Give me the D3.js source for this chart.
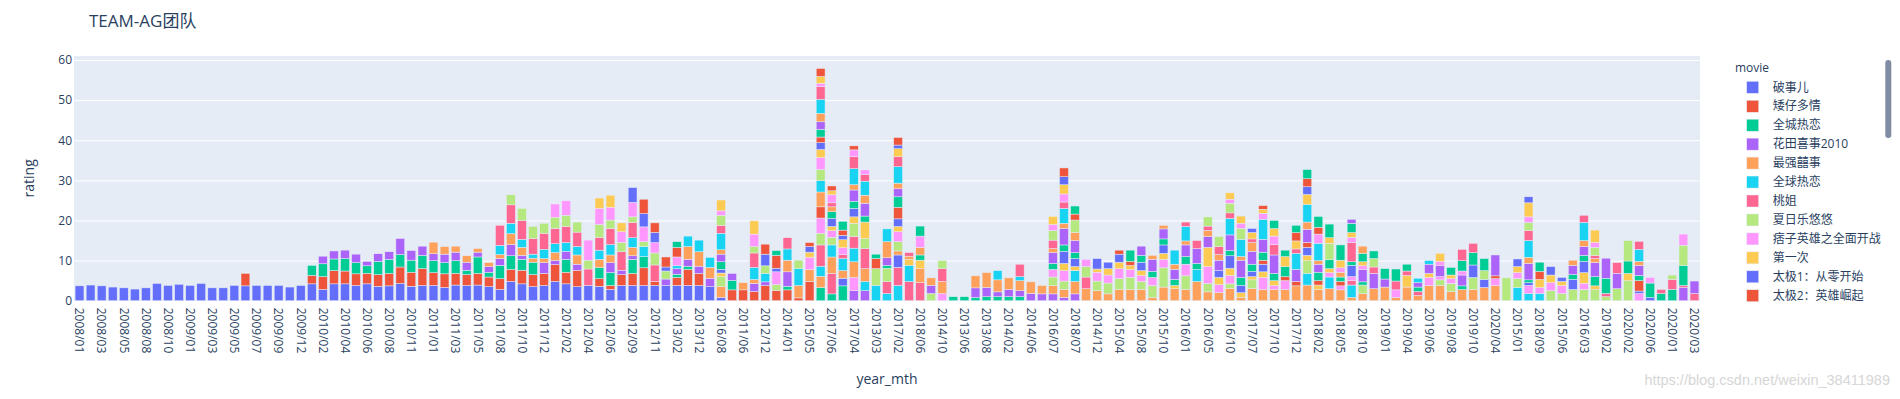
<!DOCTYPE html>
<html><head><meta charset="utf-8">
<script src="https://cdn.jsdelivr.net/npm/d3@7"></script>
<style>
body{margin:0;background:#fff}
svg{display:block}
text{font-family:"Open Sans","Noto Sans CJK SC",verdana,arial,sans-serif}
</style>
</head><body>
<svg id="chart" width="1900" height="399"></svg>
<script>
// ---------- data ----------
const categories = [
"2008/01","2008/02","2008/03","2008/04","2008/05","2008/07","2008/08","2008/09","2008/10","2008/12",
"2009/01","2009/02","2009/03","2009/04","2009/05","2009/06","2009/07","2009/08","2009/09","2009/10",
"2009/12","2010/01","2010/02","2010/03","2010/04","2010/05","2010/06","2010/07","2010/08","2010/09",
"2010/11","2010/12","2011/01","2011/02","2011/03","2011/04","2011/05","2011/07","2011/08","2011/09",
"2011/10","2011/11","2011/12","2012/01","2012/02","2012/03","2012/04","2012/05","2012/06","2012/08",
"2012/09","2012/10","2012/11","2013/01","2013/02","2013/04","2013/12","2014/05","2016/08","2016/09",
"2011/06","2012/07","2012/12","2013/10","2014/01","2014/08","2015/05","2015/12","2017/06","2017/05",
"2017/04","2017/03","2013/03","2017/01","2017/02","2018/04","2018/06","2014/07","2014/10","2013/05",
"2013/06","2013/07","2013/08","2013/09","2014/02","2014/04","2014/06","2014/09","2016/07","2016/12",
"2018/07","2014/11","2014/12","2015/03","2015/04","2015/07","2015/08","2015/09","2015/10","2015/11",
"2016/01","2016/04","2016/05","2016/06","2016/10","2016/11","2017/07","2017/09","2017/10","2017/11",
"2017/12","2018/01","2018/02","2018/03","2018/05","2018/08","2018/10","2018/12","2019/01","2019/03",
"2019/04","2019/05","2019/06","2019/07","2019/08","2019/09","2019/10","2019/11","2020/04","2020/05",
"2015/01","2015/02","2018/09","2018/11","2015/06","2016/02","2016/03","2019/12","2019/02","2010/10",
"2020/02","2008/06","2020/06","2008/11","2020/01","2009/11","2020/03"
];
const tickLabels = categories.filter((d, i) => i % 2 === 0);
const movies = ["破事儿","矮仔多情","全城热恋","花田喜事2010","最强囍事","全球热恋","桃姐","夏日乐悠悠","痞子英雄之全面开战","第一次","太极1：从零开始","太极2：英雄崛起"];
const palette = ["#636efa","#EF553B","#00cc96","#ab63fa","#FFA15A","#19d3f3","#FF6692","#B6E880","#FF97FF","#FECB52"];
const yTicks = [0,10,20,30,40,50,60];

// stacked segments per month, bottom to top: [colour index of movie, rating]
const bars2008to2010 = [
[[0,3.7]],[[0,3.9]],[[0,3.7]],[[0,3.4]],[[0,3.2]],[[0,2.9]],[[0,3.2]],[[0,4.3]],[[0,3.8]],[[0,4.1]],
[[0,3.8]],[[0,4.3]],[[0,3.2]],[[0,3.2]],[[0,3.8]],[[0,3.7],[1,3.1]],[[0,3.8]],[[0,3.8]],[[0,3.8]],[[0,3.4]],
[[0,3.8]],
[[0,4.2],[1,2.1],[2,2.5]],
[[0,2.8],[1,3.2],[2,3.2],[3,1.9]],
[[0,4.2],[1,3.3],[2,2.9],[3,2.0]],
[[0,4.2],[1,3.2],[2,3.1],[3,2.1]],
[[0,3.8],[1,2.9],[2,2.8],[3,2.1]],
[[0,4.2],[1,2.6],[2,1.9],[3,1.1]],
[[0,3.6],[1,2.9],[2,3.3],[3,1.9]],
[[0,3.7],[1,3.1],[2,3.5],[3,1.9]],
[[0,4.3],[1,4.1],[2,3.1],[3,4.0]]
];
const bars2010to2013 = [
[[0,3.6],[1,3.5],[2,3.0],[3,2.4]],
[[0,3.8],[1,4.2],[2,3.3],[3,2.3]],
[[0,3.8],[1,3.2],[2,3.0],[3,1.7],[4,2.9]],
[[0,3.3],[1,3.4],[2,2.8],[3,2.1],[4,1.9]],
[[0,3.9],[1,2.9],[2,3.2],[3,2.1],[4,1.5]],
[[0,3.8],[1,2.7],[2,1.1],[3,2.0],[4,1.6]],
[[0,3.9],[1,2.9],[2,4.1],[3,1.2],[4,0.9]],
[[0,3.5],[1,2.4],[2,1.2],[3,1.4],[4,1.0]],
[[0,2.8],[1,2.7],[2,3.3],[3,1.7],[4,1.0],[5,2.3],[6,5.0]],
[[0,4.8],[1,3.0],[2,3.4],[3,2.8],[4,2.7],[5,2.6],[6,4.6],[7,2.5]],
[[0,4.2],[1,3.4],[2,2.7],[3,1.0],[4,2.0],[5,2.0],[6,4.7],[7,3.0]],
[[0,3.5],[1,3.0],[2,3.1],[4,1.0],[5,1.0],[6,3.9],[7,3.0]],
[[0,3.8],[1,3.0],[3,2.7],[4,1.0],[5,2.3],[6,4.0],[7,2.5]],
[[0,4.8],[1,4.2],[3,1.0],[4,2.0],[5,2.2],[6,3.8],[7,2.8],[8,3.3]],
[[0,4.2],[1,2.9],[2,3.2],[3,2.0],[5,2.2],[6,4.0],[7,2.8],[8,3.6]],
[[0,3.5],[1,4.1],[3,1.5],[4,2.3],[5,2.1],[6,3.6],[7,2.5]],
[[0,3.8],[6,4.1],[7,2.2],[8,5.0]],
[[0,3.6],[1,1.9],[2,2.8],[4,2.0],[5,2.3],[6,3.2],[7,3.2],[8,4.0],[9,2.6]],
[[0,2.8],[1,1.0],[2,3.2],[3,2.5],[4,1.9],[5,2.6],[6,4.0],[7,2.1],[8,3.2],[9,3.0]],
[[0,3.8],[1,2.7],[3,1.1],[6,4.6],[7,2.3],[8,2.7],[9,2.2]],
[[0,3.8],[1,3.0],[2,3.5],[3,0.9],[4,2.1],[5,2.4],[6,3.8],[7,1.4],[8,3.6],[0,3.7]],
[[0,3.8],[1,4.4],[2,2.8],[5,2.5],[7,1.2],[8,3.7],[0,3.3],[1,3.6]],
[[0,3.8],[1,1.0],[6,4.1],[7,3.0],[8,2.6],[0,2.5],[1,2.4]],
[[0,3.8],[3,1.6],[7,2.0],[0,1.0],[1,2.5]],
[[0,3.8],[1,2.0],[2,0.8],[3,1.4],[5,0.7],[8,2.2],[1,2.4],[2,1.4]],
[[0,3.8],[1,4.0],[2,0.8],[3,1.7],[4,3.2],[5,2.6]],
[[0,3.8],[1,3.0],[3,1.8],[4,3.6],[5,2.9]],
[[0,3.5],[3,2.1],[4,2.7],[5,2.5]],
[[0,0.8],[4,2.7],[7,2.5],[9,0.9],[0,0.9],[2,1.9],[3,1.9],[4,1.1],[5,4.1],[6,2.0],[7,2.5],[8,1.1],[9,2.7]],
[[1,2.7],[2,2.4],[3,1.7]]
];
const barsMixedA = [
[[1,2.7],[4,1.8]],
[[1,2.3],[3,2.0],[4,1.0],[5,3.0],[6,3.6],[7,1.6],[8,3.1],[9,3.3]],
[[1,3.8],[3,0.9],[5,2.1],[7,1.9],[0,2.9],[1,2.5]],
[[1,2.6],[7,1.4],[8,3.2],[0,0.9],[1,3.2],[2,1.2]],
[[1,2.7],[2,0.9],[3,3.6],[4,2.9],[5,2.8],[6,2.8]],
[[1,0.7],[4,3.1],[5,4.2],[7,2.1]],
[[1,4.8],[4,3.0],[8,3.0],[9,1.3],[0,1.4],[1,1.0]],
[[2,3.3],[4,2.8],[5,2.5],[6,5.3],[7,2.9],[8,3.8],[1,2.8],[4,3.7],[5,2.8],[7,2.8],[8,3.0],[9,2.0],[0,1.7],[1,1.4],[2,1.9],[3,1.9],[4,2.1],[5,3.5],[6,3.2],[8,0.8],[9,1.7],[1,2.0]],
[[2,1.7],[6,5.1],[4,4.1],[5,3.0],[7,1.9],[8,1.7],[9,1.0],[0,2.0],[2,1.7],[4,1.2],[6,1.0],[8,2.0],[9,1.0],[1,1.2]],
[[2,3.7],[0,1.9],[4,1.9],[5,3.0],[6,1.0],[8,1.7],[9,2.0],[0,1.1],[1,1.3],[2,2.2]],
[[3,2.5],[8,3.3],[4,3.9],[5,3.4],[6,2.9],[7,3.3],[9,1.6],[0,2.1],[2,1.8],[3,2.8],[4,1.3],[5,4.0],[6,3.0],[8,1.7],[1,1.0]],
[[3,2.5],[5,2.3],[4,3.2],[6,5.0],[7,2.5],[9,4.1],[2,1.5],[3,3.2],[4,2.0],[5,3.5],[6,1.6],[8,1.2]],
[[5,3.8],[7,4.2],[1,2.5],[2,1.1]],
[[5,1.8],[6,3.0],[7,3.3],[2,0.7],[3,1.9],[4,4.0],[5,3.2]],
[[5,3.8],[6,4.5],[0,3.1],[4,1.0],[7,2.3],[8,2.5],[9,1.3],[0,1.9],[1,2.9],[2,2.6],[3,2.0],[4,1.4],[5,4.1],[6,2.5],[9,2.0],[0,0.9],[1,1.9]],
[[6,4.8],[5,4.0],[9,1.5],[4,0.8],[6,0.9]],
[[6,4.5],[4,3.5],[9,2.1],[2,1.3],[4,1.9],[8,2.8],[2,2.5]],
[[7,1.8],[3,2.0],[4,1.9]],
[[8,1.8],[4,3.0],[6,3.2],[7,2.0]],
[[2,1.0]],
[[2,1.0]],
[[2,0.8],[3,2.4],[4,3.0]],
[[2,1.0],[3,2.3],[4,3.7]],
[[2,1.0],[3,1.2],[4,3.0],[5,2.3]],
[[2,1.0],[3,1.8],[4,2.9]],
[[2,1.0],[3,1.5],[4,2.5],[5,1.0],[6,3.1]],
[[3,1.8],[4,2.9]],
[[3,1.7],[4,2.1]],
[[3,1.7],[4,2.1],[7,2.1],[8,1.9],[2,1.5],[3,2.7],[4,1.0],[6,2.1],[7,2.4],[8,1.5],[9,2.0]],
[[3,0.8],[4,2.0],[7,2.1],[8,2.6],[9,1.8],[0,3.0],[2,1.6],[3,4.1],[4,1.3],[5,3.7],[6,1.6],[8,2.0],[9,2.3],[0,2.0],[1,2.2]]
];
const barsMixedB = [
[[3,1.7],[4,3.1],[5,2.7],[9,1.0],[0,2.0],[2,1.5],[3,3.0],[4,2.0],[7,3.1],[1,1.5],[2,2.0]],
[[4,3.0],[6,2.9],[7,2.6],[8,1.8]],
[[4,2.5],[7,2.4],[8,2.2],[9,0.8],[0,2.6]],
[[4,1.7],[7,2.7],[8,2.0],[9,1.6],[0,1.6]],
[[4,2.8],[7,2.7],[8,2.5],[9,1.6],[0,2.0],[1,1.0]],
[[4,2.8],[7,3.0],[8,2.0],[9,1.0],[1,1.0],[2,2.8]],
[[4,2.8],[7,2.0],[8,1.5],[9,1.2],[0,2.1],[2,1.7],[3,2.3]],
[[4,0.8],[7,3.0],[8,2.0],[2,1.5],[3,3.0],[4,1.0]],
[[4,3.4],[7,4.8],[8,2.1],[9,1.5],[0,2.1],[2,1.5],[3,2.5],[4,0.9]],
[[4,3.0],[9,0.8],[2,1.5],[3,2.5],[4,1.3],[5,3.5]],
[[4,2.8],[7,3.4],[8,2.9],[2,1.9],[3,2.9],[4,1.0],[5,3.6],[6,1.1]],
[[4,4.8],[5,3.0],[2,1.5],[3,3.7],[6,2.0]],
[[4,2.2],[7,2.1],[8,4.2],[9,4.8],[3,2.7],[4,1.5],[6,1.1],[7,2.3]],
[[4,2.0],[8,2.0],[9,1.8],[0,1.7],[3,2.6],[4,1.4],[6,2.0],[7,2.5]],
[[4,3.1],[7,1.1],[8,2.1],[9,1.8],[0,3.1],[2,1.3],[3,3.9],[5,4.1],[6,1.4],[7,2.4],[8,1.0],[9,1.6]],
[[4,0.8],[9,1.2],[0,1.8],[2,2.0],[3,4.3],[4,0.9],[5,4.3],[7,2.7],[8,1.3],[9,1.8]],
[[4,3.1],[7,2.1],[9,0.8],[0,1.3],[2,1.8],[3,3.2],[4,2.2],[6,0.9],[9,1.6],[0,1.0]],
[[4,2.8],[8,3.0],[9,1.4],[0,1.9],[1,1.0],[2,2.0],[3,3.2],[5,5.0],[8,1.5],[9,1.0],[1,0.9]],
[[4,2.8],[8,1.0],[9,1.2],[2,1.8],[3,4.6],[6,2.6],[8,2.1],[9,1.9],[2,2.0]],
[[4,2.8],[8,2.2],[1,1.0],[2,2.5],[9,2.5],[2,1.6]],
[[4,3.7],[1,1.1],[3,3.0],[5,4.0],[6,1.1],[9,2.0],[1,2.1],[2,1.8]],
[[4,3.9],[5,2.9],[7,3.2],[9,1.3],[0,2.0],[1,1.2],[3,3.3],[4,1.8],[5,4.4],[9,2.5],[0,1.9],[1,2.0],[2,2.3]],
[[4,2.8],[9,1.1],[1,1.1],[2,2.1],[3,2.0],[4,0.9],[5,4.3],[8,2.3],[1,1.7],[2,2.7]],
[[4,3.0],[5,2.9],[8,1.1],[9,1.0],[2,2.2],[7,4.1],[9,1.4],[2,3.4]],
[[4,2.7],[8,1.0],[1,1.1],[2,1.1],[4,1.2],[8,1.1],[9,1.9],[2,3.8]],
[[4,0.8],[5,3.1],[6,1.1],[8,1.0],[0,2.8],[2,0.9],[6,4.8],[8,1.3],[9,1.2],[2,2.3],[3,1.0]],
[[4,1.8],[7,2.1],[2,0.8],[3,3.1],[8,0.9],[9,1.0],[2,2.1],[4,1.8]],
[[4,3.0],[3,3.8],[6,1.6],[7,2.1],[2,1.9]],
[[4,3.4],[3,2.0],[2,2.6]],
[[4,0.8],[8,1.9],[6,2.2],[2,3.0]]
];
const barsLate = [
[[4,3.4],[9,2.9],[6,1.1],[2,1.7]],
[[4,1.3],[6,1.0],[2,1.1],[3,1.1],[5,1.1]],
[[4,3.8],[8,2.0],[9,1.0],[3,2.3],[5,0.9]],
[[4,3.8],[7,1.4],[8,0.8],[3,2.8],[8,1.0],[9,2.0]],
[[4,2.3],[7,2.0],[8,1.2],[9,0.9],[2,1.9]],
[[4,2.8],[2,0.9],[3,2.7],[8,1.0],[2,2.6],[6,2.8]],
[[4,2.8],[7,3.0],[0,3.1],[2,3.1],[6,2.3]],
[[4,3.3],[0,2.0],[7,2.2],[2,3.0]],
[[4,3.8],[8,1.7],[1,0.7],[3,5.2]],
[[7,5.7]],
[[5,3.3],[7,2.2],[8,1.5],[9,1.5],[0,1.9]],
[[5,1.8],[8,2.0],[0,0.7],[2,0.7],[3,4.1],[4,1.5],[5,4.2],[6,2.5],[7,2.0],[8,1.4],[9,3.5],[0,1.5]],
[[5,1.8],[8,1.5],[9,2.0],[1,2.0],[2,2.3]],
[[7,2.5],[8,2.0],[9,1.9],[0,2.1]],
[[7,1.8],[8,2.0],[9,1.0],[0,1.0]],
[[7,2.8],[0,2.5],[2,1.2],[3,2.3],[4,1.3]],
[[7,2.8],[8,1.5],[9,2.7],[0,2.8],[2,1.5],[3,2.2],[4,1.5],[5,4.5],[6,1.8]],
[[7,2.8],[9,0.9],[2,2.3],[3,3.5],[4,1.0],[6,0.8],[7,2.0],[8,1.2],[9,3.1]],
[[7,1.0],[6,0.8],[2,3.8],[3,5.0]],
[[7,3.0],[3,3.8],[6,2.7]],
[[7,5.0],[9,1.8],[2,3.1],[7,5.1]],
[[8,1.8],[0,0.6],[1,2.6],[2,1.3],[3,2.5],[4,1.0],[5,3.0],[6,2.0]],
[[0,0.8],[2,3.6],[8,1.4]],
[[2,1.8],[6,1.0]],
[[2,2.8],[6,2.5],[7,1.1]],
[[3,3.3],[6,0.5],[2,5.0],[7,5.0],[8,2.8]],
[[6,1.8],[3,3.1]]
];

// ---------- layout ----------
const plot = {left: 74, right: 1700, top: 56, bottom: 300.7};
const fontColor = "#2a3f5f";

const barSegments = [].concat(bars2008to2010, bars2010to2013, barsMixedA, barsMixedB, barsLate);
if (new Set(categories).size !== categories.length || barSegments.length !== categories.length) {
  console.error("category mismatch", new Set(categories).size, barSegments.length);
}

// Build table for d3.stack: each movie (trace) stacks above earlier ones; colours cycle by trace index
const rows = categories.map(c => ({cat: c}));
let nTraces = 0;
barSegments.forEach((segs, i) => {
  let t = -1;
  segs.forEach(([c, v]) => {
    let k = t + 1;
    while (k % 10 !== c) k++;
    rows[i]["t" + k] = v;
    t = k;
    nTraces = Math.max(nTraces, k + 1);
  });
});
const keys = d3.range(nTraces).map(k => "t" + k);
rows.forEach(r => keys.forEach(k => { if (r[k] == null) r[k] = 0; }));
const series = d3.stack().keys(keys)(rows);

const svg = d3.select("#chart");

const x = d3.scaleBand().domain(categories).range([plot.left, plot.right]).paddingInner(0.2).paddingOuter(0.1);
const y = d3.scaleLinear().domain([0, 61]).range([plot.bottom, plot.top]);

// background
svg.append("rect").attr("x", plot.left).attr("y", plot.top)
  .attr("width", plot.right - plot.left).attr("height", plot.bottom - plot.top)
  .attr("fill", "#E5ECF6");

// y axis with gridlines
const yAxis = svg.append("g").attr("transform", `translate(${plot.left},0)`)
  .call(d3.axisLeft(y).tickValues(yTicks).tickSize(-(plot.right - plot.left)).tickPadding(2).tickFormat(d3.format("d")));
yAxis.select(".domain").remove();
yAxis.selectAll("line").attr("stroke", "#ffffff").attr("stroke-width", 1);
yAxis.selectAll("text").attr("fill", fontColor).style("font-size", "12px");

// bars
svg.append("g").selectAll("g").data(series).join("g")
  .attr("fill", (d, i) => palette[i % 10])
  .selectAll("rect").data(d => d.filter(s => s[1] - s[0] > 0)).join("rect")
  .attr("x", d => x(d.data.cat))
  .attr("width", x.bandwidth())
  .attr("y", d => y(d[1]))
  .attr("height", d => y(d[0]) - y(d[1]))
  .attr("stroke", "#E5ECF6").attr("stroke-width", 0.5);

// x axis labels (every other category, rotated)
const xAxis = svg.append("g").attr("transform", `translate(0,${plot.bottom})`)
  .call(d3.axisBottom(x).tickValues(tickLabels).tickSize(0));
xAxis.select(".domain").remove();
xAxis.selectAll("text")
  .attr("fill", fontColor).style("font-size", "12px")
  .attr("text-anchor", "start")
  .attr("transform", "rotate(90)")
  .attr("x", 7).attr("y", 0).attr("dy", "0.35em");

// axis titles
svg.append("text").attr("x", (plot.left + plot.right) / 2).attr("y", 384)
  .attr("text-anchor", "middle").attr("fill", fontColor).style("font-size", "14px").text("year_mth");
svg.append("text").attr("transform", `translate(29,${(plot.top + plot.bottom) / 2}) rotate(-90)`)
  .attr("text-anchor", "middle").attr("dy", "0.35em").attr("fill", fontColor).style("font-size", "14px").text("rating");

// title
svg.append("text").attr("x", 89).attr("y", 26.5).attr("fill", fontColor)
  .style("font-size", "17px").text("TEAM-AG团队");

// legend
const lg = svg.append("g");
lg.append("text").attr("x", 1735).attr("y", 68).attr("dy", "0.35em")
  .attr("fill", fontColor).style("font-size", "12px").text("movie");
const item = lg.selectAll("g.item").data(movies).join("g").attr("class", "item")
  .attr("transform", (d, i) => `translate(0,${87.3 + i * 18.95})`);
item.append("rect").attr("x", 1746.7).attr("y", -6).attr("width", 12).attr("height", 12)
  .attr("fill", (d, i) => palette[i % 10]).attr("stroke", "#E5ECF6").attr("stroke-width", 0.5);
item.append("text").attr("x", 1772.7).attr("dy", "0.35em").attr("fill", fontColor)
  .style("font-size", "12px").text(d => d);
// legend scrollbar
lg.append("rect").attr("x", 1885.3).attr("y", 60).attr("width", 6).attr("height", 78)
  .attr("rx", 3).attr("fill", "#808BA4");

// watermark
svg.append("text").attr("x", 1890).attr("y", 385).attr("text-anchor", "end")
  .attr("fill", "#d6d6d6").style("font-family", "'Liberation Sans', Arial, sans-serif")
  .style("font-size", "14.5px").text("https://blog.csdn.net/weixin_38411989");
</script>
</body></html>
